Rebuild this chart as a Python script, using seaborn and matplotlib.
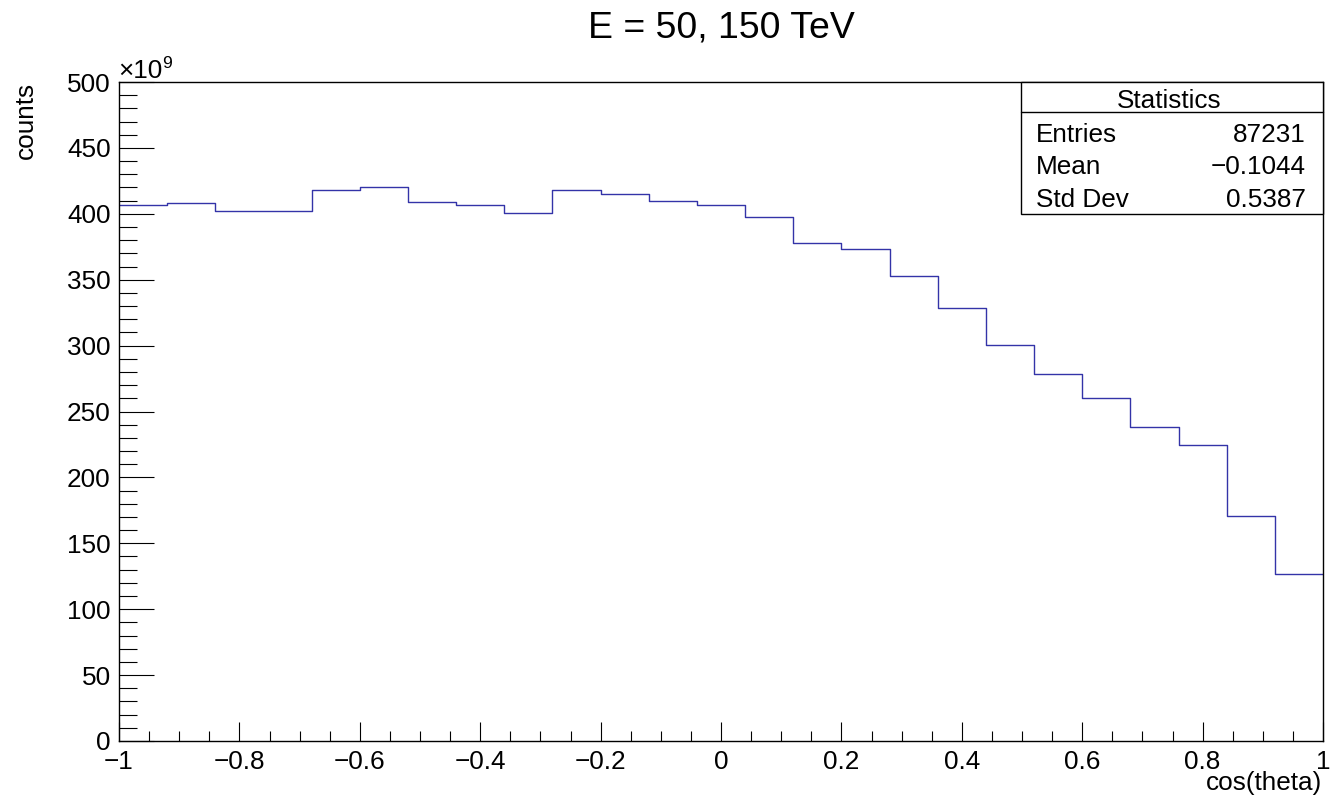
import numpy as np
import pandas as pd
import matplotlib
matplotlib.use("Agg")
import matplotlib.pyplot as plt
import seaborn as sns
from matplotlib.ticker import MultipleLocator, FuncFormatter
from matplotlib.patches import Rectangle

# histogram contents, in units of 1e9 counts, 25 bins over cos(theta) in [-1, 1]
n_bins = 25
x_lo, x_hi = -1.0, 1.0
counts = [406.4, 408.1, 402.1, 402.1, 418.0, 420.3, 408.6, 406.4, 400.8, 417.8,
          415.0, 409.4, 406.4, 397.8, 378.1, 373.5, 353.1, 328.6, 300.7, 278.2,
          260.6, 238.3, 224.9, 170.8, 126.4]

title = "E = 50, 150 TeV"
stat_names = ["Entries", "Mean", "Std Dev"]
stat_values = ["87231", "\u22120.1044", "0.5387"]

bw = (x_hi - x_lo) / n_bins
centers = x_lo + bw * (np.arange(n_bins) + 0.5)
df = pd.DataFrame({"cos": centers, "w": counts})

sns.set_style("white")
plt.rcParams['font.family'] = ['Liberation Sans', 'DejaVu Sans']
plt.rcParams['axes.unicode_minus'] = True
plt.rcParams['text.color'] = 'black'
plt.rcParams['xtick.color'] = 'black'
plt.rcParams['ytick.color'] = 'black'

fs = 18.8
fig = plt.figure(figsize=(13.3, 8.01), dpi=100)
ax = fig.add_axes([119 / 1330, 60 / 801, 1204 / 1330, 659 / 801])

sns.histplot(data=df, x="cos", weights="w", bins=n_bins, binrange=(x_lo, x_hi),
             element="step", fill=False, color="#3333a8", linewidth=1.0, ax=ax)

ax.set_xlim(x_lo, x_hi)
ax.set_ylim(0, 500)
ax.set_xlabel("")
ax.set_ylabel("")

for s in ax.spines.values():
    s.set_color("black")
    s.set_linewidth(1.0)

ax.xaxis.set_major_locator(MultipleLocator(0.2))
ax.xaxis.set_minor_locator(MultipleLocator(0.05))
ax.yaxis.set_major_locator(MultipleLocator(50))
ax.yaxis.set_minor_locator(MultipleLocator(10))

fmt = FuncFormatter(lambda v, p: ("%g" % (round(v, 6) + 0.0)).replace("-", "\u2212"))
ax.xaxis.set_major_formatter(fmt)
ax.yaxis.set_major_formatter(fmt)

ax.tick_params(axis='x', which='major', direction='in', length=13.7, width=0.8,
               color='black', labelcolor='black', labelsize=fs, pad=6.5,
               bottom=True, top=False)
ax.tick_params(axis='x', which='minor', direction='in', length=7.2, width=0.8,
               color='black', bottom=True, top=False)
ax.tick_params(axis='y', which='major', direction='in', length=25.2, width=0.8,
               color='black', labelcolor='black', labelsize=fs, pad=6,
               left=True, right=False)
ax.tick_params(axis='y', which='minor', direction='in', length=13.0, width=0.8,
               color='black', left=True, right=False)

# title and axis titles placed like ROOT does
fig.text(721 / 1330, 1 - 37.3 / 801, title, ha='center', va='baseline', fontsize=26.9)
fig.text(1322 / 1330, 1 - 790 / 801, "cos(theta)", ha='right', va='baseline', fontsize=fs)
fig.text(33 / 1330, 1 - 82 / 801, "counts", rotation=90, rotation_mode='anchor',
         ha='right', va='baseline', fontsize=fs)
# exponent label "x10^9"
fig.text(118 / 1330, 1 - 78.3 / 801, "\u00d710", ha='left', va='baseline', fontsize=fs)
fig.text(162.5 / 1330, 1 - 68.5 / 801, "9", ha='left', va='baseline', fontsize=12.5)

# statistics box
x0 = (1021 - 119) / 1204
y0 = (741 - 214) / 659
ax.add_patch(Rectangle((x0, y0), 1 - x0, 1 - y0, transform=ax.transAxes,
                       facecolor='white', edgecolor='black', linewidth=1.0,
                       zorder=5, clip_on=False))
y_sep = (741 - 112.3) / 659
ax.plot([x0, 1], [y_sep, y_sep], transform=ax.transAxes, color='black',
        linewidth=1.0, zorder=6, clip_on=False)
ax.text((1168.8 - 119) / 1204, (741 - 108.3) / 659, "Statistics", transform=ax.transAxes,
        ha='center', va='baseline', fontsize=fs, zorder=7)
row_y = [(741 - 141.7) / 659, (741 - 174.3) / 659, (741 - 207.3) / 659]
for name, val, yy in zip(stat_names, stat_values, row_y):
    ax.text((1036 - 119) / 1204, yy, name, transform=ax.transAxes,
            ha='left', va='baseline', fontsize=fs, zorder=7)
    ax.text((1306 - 119) / 1204, yy, val, transform=ax.transAxes,
            ha='right', va='baseline', fontsize=fs, zorder=7)

fig.savefig("out.png", dpi=100)
